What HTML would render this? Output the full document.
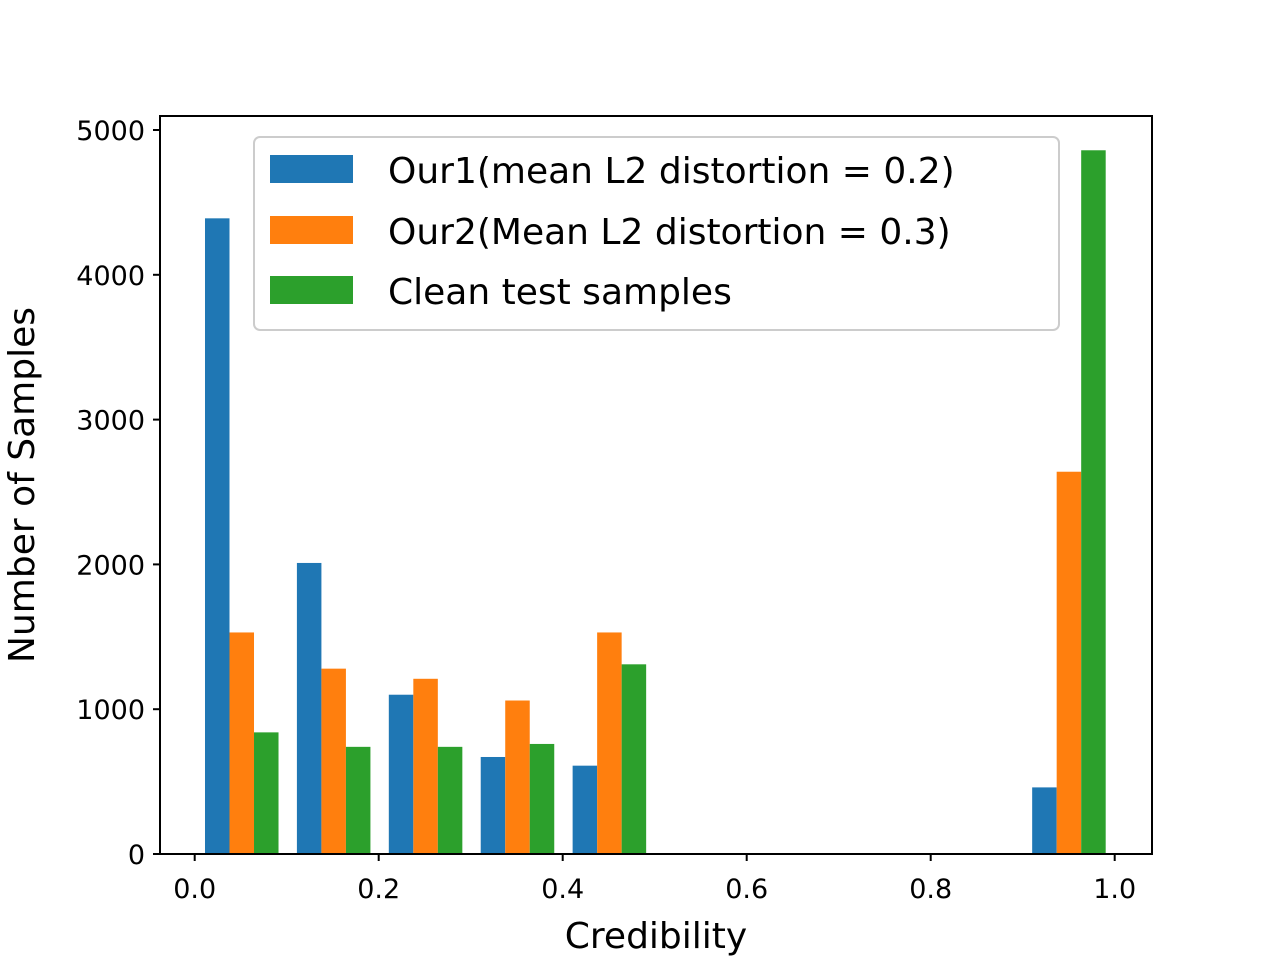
<!DOCTYPE html>
<html><head><meta charset="utf-8"><style>
body{margin:0;background:#fff;}
svg text{font-family:"DejaVu Sans","Liberation Sans",sans-serif;fill:#000;}
</style></head><body>
<svg id="chart" width="1280" height="960" xmlns="http://www.w3.org/2000/svg">
<rect width="1280" height="960" fill="#fff"/>
<g id="bars"></g>
<g id="xticks"></g>
<g id="yticks"></g>
<rect x="160" y="116" width="992" height="738" fill="none" stroke="#000" stroke-width="2"/>
<text x="656" y="948" font-size="36" text-anchor="middle">Credibility</text>
<text transform="translate(34,485) rotate(-90)" font-size="36" text-anchor="middle">Number of Samples</text>
<g>
<rect x="254" y="137" width="805" height="193" rx="6" fill="#fff" fill-opacity="0.8" stroke="#ccc" stroke-width="2"/>
<g><rect x="270" y="155" width="83" height="28" fill="#1f77b4"/><text x="388" y="183" font-size="36">Our1(mean L2 distortion = 0.2)</text></g>
<g><rect x="270" y="216" width="83" height="28" fill="#ff7f0e"/><text x="388" y="244" font-size="36">Our2(Mean L2 distortion = 0.3)</text></g>
<g><rect x="270" y="276" width="83" height="28" fill="#2ca02c"/><text x="388" y="304" font-size="36">Clean test samples</text></g>
</g>
</svg>
<script>
const binStarts = [0.0012,0.1011,0.201,0.3009,0.4008,0.5007,0.6006,0.7005,0.8004,0.9003];
const our1 = [4390,2010,1100,670,610,0,0,0,0,460];
const our2 = [1530,1280,1210,1060,1530,0,0,0,0,2640];
const clean = [840,740,740,760,1310,0,0,0,0,4860];
const xTicks = [0.0,0.2,0.4,0.6,0.8,1.0];
const yTicks = [0,1000,2000,3000,4000,5000];
const NS='http://www.w3.org/2000/svg';
const xs = v => 194.7 + v*920;
const ys = v => 854 - v*0.1448;
const binW = 0.0999;
const series = [[our1,'#1f77b4','our1'],[our2,'#ff7f0e','our2'],[clean,'#2ca02c','clean']];
const bg = document.getElementById('bars');
series.forEach((s,si)=>{
  s[0].forEach((v,i)=>{
    if(v<=0) return;
    const x0 = binStarts[i] + binW*0.1 + si*binW*0.8/3;
    const r = document.createElementNS(NS,'rect');
    
    
    r.setAttribute('x', xs(x0));
    r.setAttribute('width', xs(x0+binW*0.8/3)-xs(x0));
    r.setAttribute('y', ys(v));
    r.setAttribute('height', ys(0)-ys(v));
    r.setAttribute('fill', s[1]);
    bg.appendChild(r);
  });
});
const xg = document.getElementById('xticks');
xTicks.forEach(t=>{
  const l = document.createElementNS(NS,'line');
  
  
  l.setAttribute('x1',xs(t));l.setAttribute('x2',xs(t));
  l.setAttribute('y1',854);l.setAttribute('y2',861);
  l.setAttribute('stroke','#000');l.setAttribute('stroke-width','2');
  xg.appendChild(l);
  const tx = document.createElementNS(NS,'text');
  
  
  tx.setAttribute('x',xs(t));tx.setAttribute('y',898);
  tx.setAttribute('font-size','27');tx.setAttribute('text-anchor','middle');
  tx.textContent = t.toFixed(1);
  xg.appendChild(tx);
});
const yg = document.getElementById('yticks');
yTicks.forEach(t=>{
  const l = document.createElementNS(NS,'line');
  
  
  l.setAttribute('x1',153);l.setAttribute('x2',160);
  l.setAttribute('y1',ys(t));l.setAttribute('y2',ys(t));
  l.setAttribute('stroke','#000');l.setAttribute('stroke-width','2');
  yg.appendChild(l);
  const tx = document.createElementNS(NS,'text');
  
  
  tx.setAttribute('x',145);tx.setAttribute('y',ys(t)+10);
  tx.setAttribute('font-size','27');tx.setAttribute('text-anchor','end');
  tx.textContent = String(t);
  yg.appendChild(tx);
});
</script>
</body></html>
